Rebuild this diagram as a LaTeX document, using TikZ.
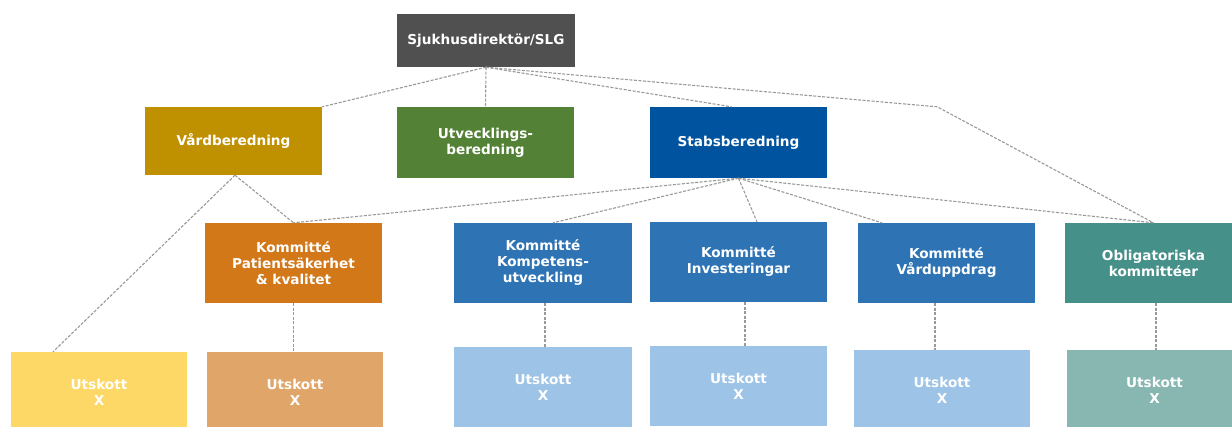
\documentclass[tikz,border=0pt]{standalone}
\usepackage{fontspec}
\setmainfont{DejaVu Sans}
\usetikzlibrary{calc}
\definecolor{cslg}{HTML}{505050}
\definecolor{cvard}{HTML}{BF9000}
\definecolor{cutv}{HTML}{538135}
\definecolor{cstab}{HTML}{00549F}
\definecolor{cpat}{HTML}{D27818}
\definecolor{ckom}{HTML}{2E74B5}
\definecolor{cobl}{HTML}{46908A}
\definecolor{cu1}{HTML}{FDD866}
\definecolor{cu2}{HTML}{E0A568}
\definecolor{cu3}{HTML}{9DC3E6}
\definecolor{cu6}{HTML}{88B7B1}
\definecolor{cline}{HTML}{999999}
\tikzset{
  box/.style={rectangle, inner sep=2pt, text=white, align=center,
    font=\fontsize{13.6}{16}\selectfont\bfseries, minimum width=177pt},
  link/.style={draw=cline, line width=1.1pt, dash pattern=on 3pt off 1.5pt}
}
\begin{document}
\begin{tikzpicture}[x=1pt,y=-1pt]
\useasboundingbox (0,0) rectangle (1232,426);
% top
\node[box, fill=cslg, minimum width=178pt, minimum height=53pt] (slg) at (486,40.5) {Sjukhusdirektör/SLG};
% second row
\node[box, fill=cvard, minimum height=68pt] (vard) at (233.5,141) {Vårdberedning};
\node[box, fill=cutv, minimum height=71pt] (utv) at (485.5,142.5) {Utvecklings-\\beredning};
\node[box, fill=cstab, minimum height=71pt] (stabs) at (738.5,142.5) {Stabsberedning};
% third row
\node[box, fill=cpat, minimum height=80pt] (pat) at (293.5,263) {Kommitté\\Patientsäkerhet\\\& kvalitet};
\node[box, fill=ckom, minimum width=178pt, minimum height=80pt] (komp) at (543,263) {Kommitté\\Kompetens-\\utveckling};
\node[box, fill=ckom, minimum height=80pt] (inv) at (738.5,262) {Kommitté\\Investeringar};
\node[box, fill=ckom, minimum height=80pt] (vupp) at (946.5,263) {Kommitté\\Vårduppdrag};
\node[box, fill=cobl, minimum height=80pt] (obl) at (1153.5,263) {Obligatoriska\\kommittéer};
% bottom row
\node[box, fill=cu1, minimum width=176pt, minimum height=80pt] (u1) at (99,392) {Utskott\\X};
\node[box, fill=cu2, minimum width=176pt, minimum height=80pt] (u2) at (295,392) {Utskott\\X};
\node[box, fill=cu3, minimum width=178pt, minimum height=80pt] (u3) at (543,387) {Utskott\\X};
\node[box, fill=cu3, minimum height=80pt] (u4) at (738.5,386) {Utskott\\X};
\node[box, fill=cu3, minimum width=176pt, minimum height=80pt] (u5) at (942,390) {Utskott\\X};
\node[box, fill=cu6, minimum width=175pt, minimum height=80pt] (u6) at (1154.5,390) {Utskott\\X};
% helper coordinates
\coordinate (bend) at ($(stabs.north east)+(110,0)$);
\coordinate (stabsin) at ($(stabs.north)+(-7,0)$);
\coordinate (u1in) at ($(u1.north)+(-46,0)$);
\coordinate (vardout) at ($(vard.south)+(1.5,0)$);
\coordinate (invin) at ($(inv.north)+(18.5,0)$);
\coordinate (vuppin) at ($(vupp.north)+(-64.5,0)$);
\coordinate (kompin) at ($(komp.north)+(10,0)$);
\coordinate (v2) at ($(pat.south)+(0,0)$);
\coordinate (v3) at ($(komp.south)+(2,0)$);
\coordinate (v4) at ($(inv.south)+(6.5,0)$);
\coordinate (v5) at ($(vupp.south)+(-11.5,0)$);
\coordinate (v6) at ($(obl.south)+(2.5,0)$);
% connectors
\draw[link] (slg.south) -- (vard.north east);
\draw[link] (slg.south) -- (utv.north);
\draw[link] (slg.south) -- (stabsin);
\draw[link] (slg.south) -- (bend) -- (obl.north);
\draw[link] (vardout) -- (u1in);
\draw[link] (vardout) -- (pat.north);
\draw[link] (stabs.south) -- (pat.north);
\draw[link] (stabs.south) -- (kompin);
\draw[link] (stabs.south) -- (invin);
\draw[link] (stabs.south) -- (vuppin);
\draw[link] (stabs.south) -- (obl.north);
\draw[link] (v2) -- (v2 |- u2.north);
\draw[link] (v3) -- (v3 |- u3.north);
\draw[link] (v4) -- (v4 |- u4.north);
\draw[link] (v5) -- (v5 |- u5.north);
\draw[link] (v6) -- (v6 |- u6.north);
\end{tikzpicture}
\end{document}
